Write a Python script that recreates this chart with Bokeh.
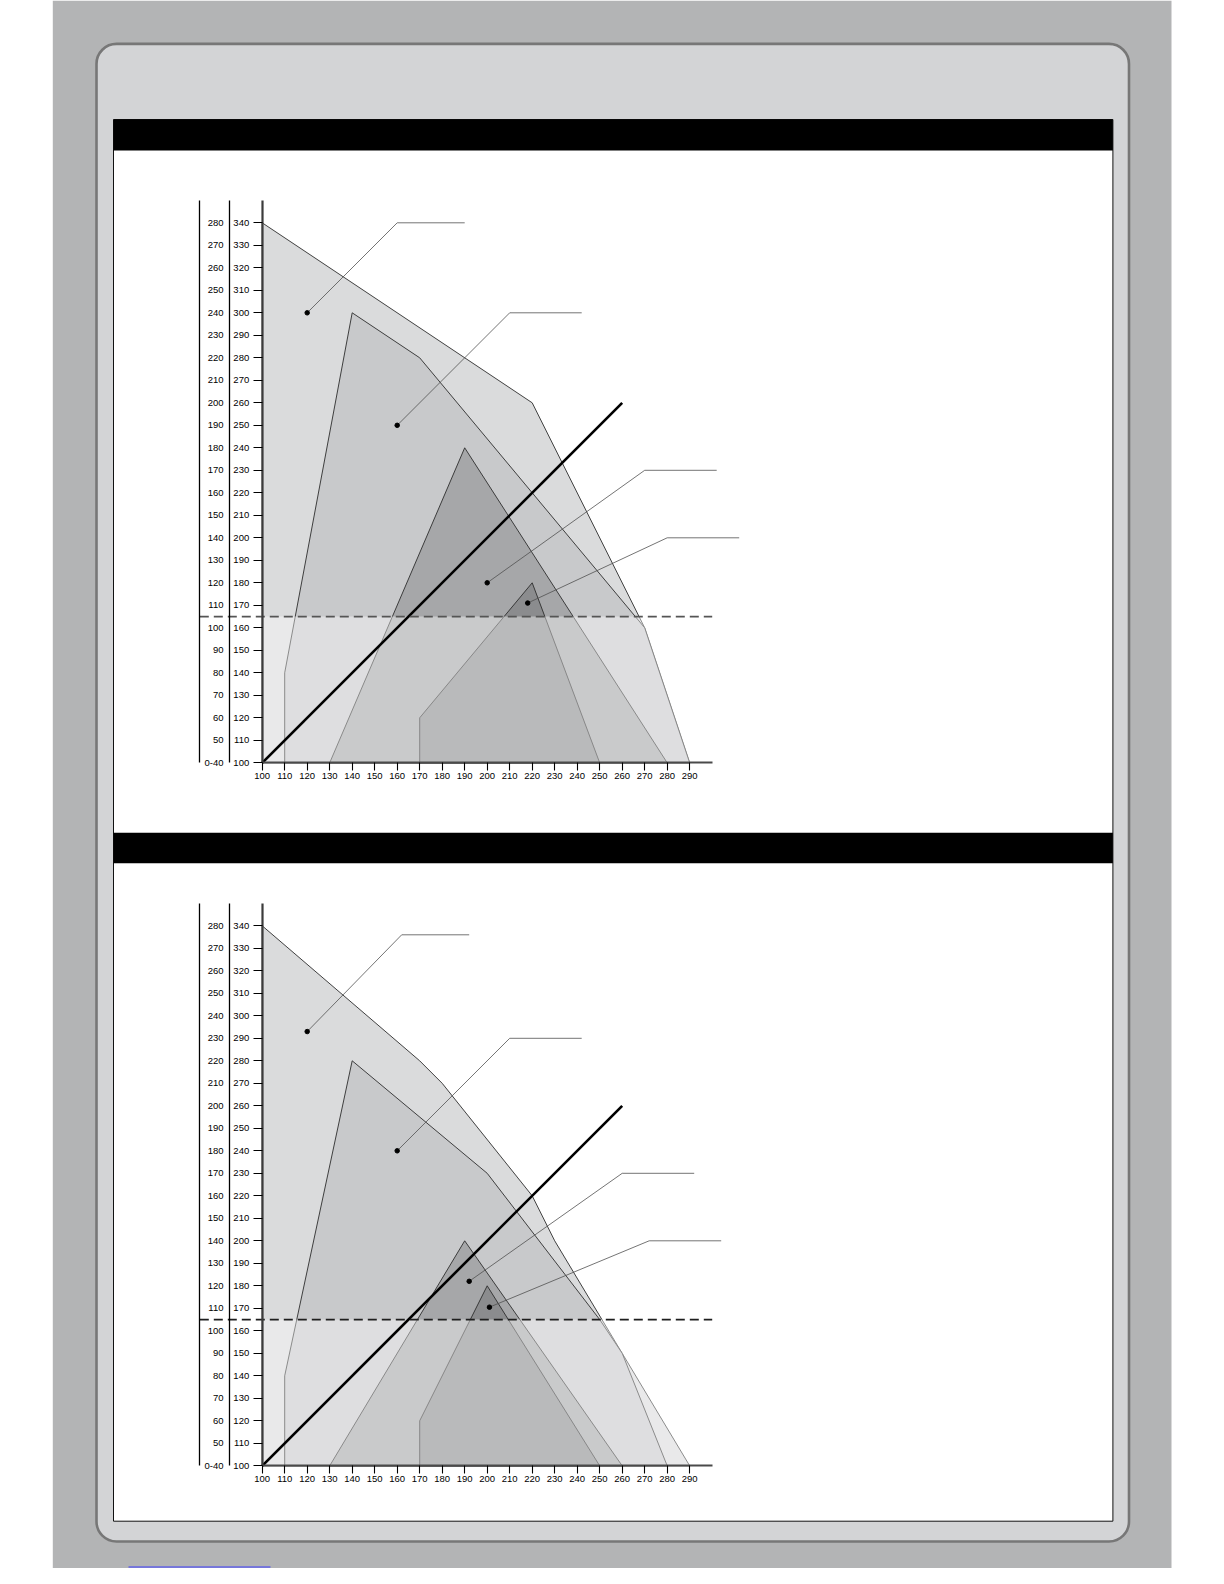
from bokeh.plotting import figure
from bokeh.models import Range1d, LinearAxis, FixedTicker, BoxAnnotation
from bokeh.embed import file_html
from bokeh.resources import INLINE

# ---------------- data ----------------
x_ticks = [100, 110, 120, 130, 140, 150, 160, 170, 180, 190, 200,
           210, 220, 230, 240, 250, 260, 270, 280, 290]
y_ticks = [100, 110, 120, 130, 140, 150, 160, 170, 180, 190, 200, 210,
           220, 230, 240, 250, 260, 270, 280, 290, 300, 310, 320, 330, 340]
left_labels = ["0-40", "50", "60", "70", "80", "90", "100", "110", "120",
               "130", "140", "150", "160", "170", "180", "190", "200", "210",
               "220", "230", "240", "250", "260", "270", "280"]
dash_level = 165
diag_x = [100, 260]
diag_y = [100, 260]

# chart 1 zones
c1_a_x = [100, 100, 220, 270, 290]
c1_a_y = [100, 340, 260, 160, 100]
c1_b_x = [110, 110, 140, 170, 270, 290]
c1_b_y = [100, 140, 300, 280, 160, 100]
c1_c_x = [130, 190, 280]
c1_c_y = [100, 240, 100]
c1_d_x = [170, 170, 220, 250]
c1_d_y = [100, 120, 180, 100]
# chart 1 leaders (dot, elbow, end)
c1_lead_x = [[120, 160, 190], [160, 210, 242], [200, 270, 302], [218, 280, 312]]
c1_lead_y = [[300, 340, 340], [250, 300, 300], [180, 230, 230], [171, 200, 200]]

# chart 2 zones
c2_a_x = [100, 100, 170, 180, 220, 230, 260, 290]
c2_a_y = [100, 340, 280, 270, 220, 200, 150, 100]
c2_b_x = [110, 110, 140, 200, 250, 260, 280]
c2_b_y = [100, 140, 280, 230, 165, 150, 100]
c2_c_x = [130, 190, 260]
c2_c_y = [100, 200, 100]
c2_d_x = [170, 170, 200, 250]
c2_d_y = [100, 120, 180, 100]
c2_lead_x = [[120, 162, 192], [160, 210, 242], [192, 260, 292], [201, 272, 304]]
c2_lead_y = [[293, 336, 336], [240, 290, 290], [182, 230, 230], [170.5, 200, 200]]

# ---------------- layout constants (page px) ----------------
W, H = 1208, 1568
CL, CT = 0, 0
K = 2.25                 # px per unit
X0 = 261.7               # page x of value 100
C1_Y0 = 762.3            # page y of value 100 chart 1
C2_Y0 = 1465.3           # page y of value 100 chart 2
MID_X = 100 + (229.0 - X0) / K
FAR_X = 100 + (199.3 - X0) / K
Y_TOP = 350
X_END = 300

p = figure(width=W, height=H, x_range=Range1d(CL, CL + W), y_range=Range1d(CT + H, CT),
           x_axis_type=None, y_axis_type=None, output_backend="svg",
           toolbar_location=None, min_border=0)
p.outline_line_color = None
p.background_fill_color = "white"
p.border_fill_color = "white"

p.extra_x_ranges = {"cx": Range1d(100 + (CL - X0) / K, 100 + (CL + W - X0) / K)}
p.extra_y_ranges = {
    "c1y": Range1d(100 - (CT + H - C1_Y0) / K, 100 + (C1_Y0 - CT) / K),
    "c2y": Range1d(100 - (CT + H - C2_Y0) / K, 100 + (C2_Y0 - CT) / K),
}

# ---------------- page decoration ----------------
p.quad(left=[52.3], right=[1171], top=[CT], bottom=[CT + H], fill_color="#b3b4b5",
       line_color=None, level="image")
p.add_layout(BoxAnnotation(left=96, right=1128.5, top=43.4, bottom=1541, border_radius=20,
                           fill_color="#d3d4d6", fill_alpha=1, line_color="#777777",
                           line_width=2.6, line_alpha=1, level="underlay"))
p.quad(left=[113], right=[1112.4], top=[119], bottom=[1520.7], fill_color="white",
       line_color="#111111", line_width=1)
p.quad(left=[113, 113], right=[1112.4, 1112.4], top=[119, 832.3], bottom=[150, 862.7],
       fill_color="black", line_color=None)
p.segment(x0=[128], y0=[1566.5], x1=[270], y1=[1566.5], line_color="#3a3aff", line_width=1)

FILLS = ["#dadbdc", "#c8c9cb", "#a6a7a9", "#8b8c8e"]


def draw_chart(yname, zones, lead_x, lead_y, dash_color):
    kw = dict(x_range_name="cx", y_range_name=yname)
    for (zx, zy), col in zip(zones, FILLS):
        p.patch(zx, zy, fill_color=col, line_color="#2e2e2e", line_width=0.9, **kw)
    # lighter zone below the threshold
    p.quad(left=[x_ticks[0]], right=[X_END], bottom=[y_ticks[0]], top=[dash_level],
           fill_color="white", fill_alpha=0.4, line_color=None, **kw)
    p.line(diag_x, diag_y, line_color="black", line_width=2.6, **kw)
    p.line([FAR_X, X_END], [dash_level, dash_level], line_color=dash_color,
           line_width=1.8, line_dash="9 5", **kw)
    p.multi_line(lead_x, lead_y, line_color="#505050", line_width=0.8, **kw)
    p.scatter([lx[0] for lx in lead_x], [ly[0] for ly in lead_y], size=4.5,
              color="black", **kw)

    font = dict(major_label_text_font="Liberation Sans", major_label_text_font_size="9.5px",
                major_label_text_color="black")
    yax = LinearAxis(fixed_location=100, bounds=(100, Y_TOP), ticker=FixedTicker(ticks=y_ticks),
                     major_tick_out=9, major_tick_in=0, minor_tick_out=0, minor_tick_in=0,
                     axis_line_width=2.2, axis_line_color="#3c3c3c",
                     major_tick_line_color="black", major_tick_line_width=1.1,
                     major_label_standoff=4, **font, **kw)
    p.add_layout(yax, "left")
    mid = LinearAxis(fixed_location=MID_X, bounds=(100, Y_TOP), ticker=FixedTicker(ticks=y_ticks),
                     major_label_overrides=dict(zip(y_ticks, left_labels)),
                     major_tick_out=0, major_tick_in=0, minor_tick_out=0, minor_tick_in=0,
                     axis_line_width=1.3, axis_line_color="black",
                     major_label_standoff=6, **font, **kw)
    p.add_layout(mid, "left")
    far = LinearAxis(fixed_location=FAR_X, bounds=(100, Y_TOP), ticker=FixedTicker(ticks=y_ticks),
                     major_tick_out=0, major_tick_in=0, minor_tick_out=0, minor_tick_in=0,
                     axis_line_width=1.3, axis_line_color="black",
                     major_label_text_alpha=0, **kw)
    p.add_layout(far, "left")
    xax = LinearAxis(fixed_location=100, bounds=(100, X_END), ticker=FixedTicker(ticks=x_ticks),
                     major_tick_out=8, major_tick_in=0, minor_tick_out=0, minor_tick_in=0,
                     axis_line_width=2.2, axis_line_color="#4a4a4a",
                     major_tick_line_color="black", major_tick_line_width=1.1,
                     major_label_standoff=2, **font, **kw)
    p.add_layout(xax, "below")


draw_chart("c1y", [(c1_a_x, c1_a_y), (c1_b_x, c1_b_y), (c1_c_x, c1_c_y), (c1_d_x, c1_d_y)],
           c1_lead_x, c1_lead_y, "#555555")
draw_chart("c2y", [(c2_a_x, c2_a_y), (c2_b_x, c2_b_y), (c2_c_x, c2_c_y), (c2_d_x, c2_d_y)],
           c2_lead_x, c2_lead_y, "#1e1e1e")

open("out.html", "w").write(file_html(p, INLINE))
